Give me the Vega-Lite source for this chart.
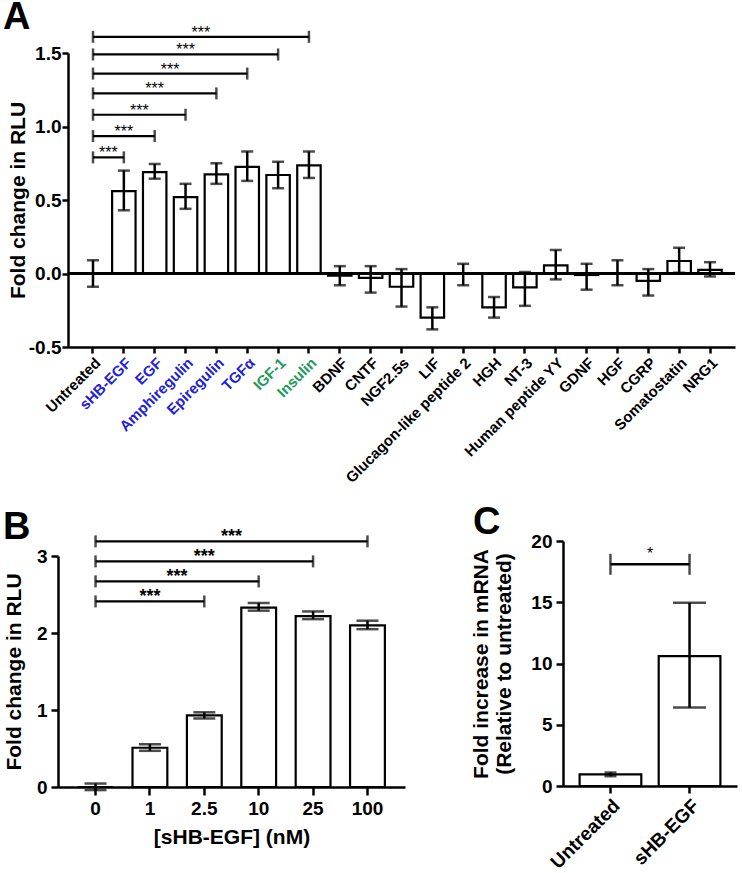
{
  "$schema": "https://vega.github.io/schema/vega-lite/v6.json",
  "autosize": {"type": "none"},
  "padding": {"left": 58, "top": 53, "right": 684, "bottom": 820},
  "background": "white",
  "bounds": "flush",
  "spacing": 488,
  "config": {
    "font": "Liberation Sans",
    "view": {"stroke": null},
    "axis": {
      "domainColor": "black", "domainWidth": 2.5, "tickColor": "black", "tickWidth": 2.5, "tickSize": 7,
      "labelFont": "Liberation Sans", "labelFontWeight": "bold", "labelColor": "black", "labelFontSize": 19,
      "titleFont": "Liberation Sans", "titleFontWeight": "bold", "titleColor": "black", "titleFontSize": 21,
      "grid": false, "labelPadding": 2
    },
    "title": {"font": "Liberation Sans", "fontSize": 38, "fontWeight": "bold", "anchor": "start", "frame": "group", "color": "black", "baseline": "alphabetic"}
  },
  "datasets": {
    "a": [
      {"name": "Untreated", "mean": 0.0, "hi": 0.09, "lo": -0.09},
      {"name": "sHB-EGF", "mean": 0.56, "hi": 0.70, "lo": 0.43},
      {"name": "EGF", "mean": 0.69, "hi": 0.745, "lo": 0.645},
      {"name": "Amphiregulin", "mean": 0.52, "hi": 0.61, "lo": 0.44},
      {"name": "Epiregulin", "mean": 0.675, "hi": 0.75, "lo": 0.61},
      {"name": "TGFα", "mean": 0.725, "hi": 0.83, "lo": 0.63},
      {"name": "IGF-1", "mean": 0.67, "hi": 0.76, "lo": 0.58},
      {"name": "Insulin", "mean": 0.735, "hi": 0.83, "lo": 0.65},
      {"name": "BDNF", "mean": -0.015, "hi": 0.05, "lo": -0.08},
      {"name": "CNTF", "mean": -0.03, "hi": 0.05, "lo": -0.13},
      {"name": "NGF2.5s", "mean": -0.09, "hi": 0.03, "lo": -0.225},
      {"name": "LIF", "mean": -0.30, "hi": -0.23, "lo": -0.38},
      {"name": "Glucagon-like peptide 2", "mean": 0.0, "hi": 0.066, "lo": -0.08},
      {"name": "HGH", "mean": -0.23, "hi": -0.16, "lo": -0.30},
      {"name": "NT-3", "mean": -0.095, "hi": 0.01, "lo": -0.22},
      {"name": "Human peptide YY", "mean": 0.055, "hi": 0.16, "lo": -0.04},
      {"name": "GDNF", "mean": -0.01, "hi": 0.066, "lo": -0.11},
      {"name": "HGF", "mean": 0.0, "hi": 0.09, "lo": -0.08},
      {"name": "CGRP", "mean": -0.05, "hi": 0.03, "lo": -0.15},
      {"name": "Somatostatin", "mean": 0.085, "hi": 0.175, "lo": 0.005},
      {"name": "NRG1", "mean": 0.025, "hi": 0.077, "lo": -0.02}
    ],
    "abr": [
      {"from": 0, "to": 7, "mid": 3.5, "y": 1.61, "sig": "***"},
      {"from": 0, "to": 6, "mid": 3.0, "y": 1.49, "sig": "***"},
      {"from": 0, "to": 5, "mid": 2.5, "y": 1.36, "sig": "***"},
      {"from": 0, "to": 4, "mid": 2.0, "y": 1.225, "sig": "***"},
      {"from": 0, "to": 3, "mid": 1.5, "y": 1.08, "sig": "***"},
      {"from": 0, "to": 2, "mid": 1.0, "y": 0.935, "sig": "***"},
      {"from": 0, "to": 1, "mid": 0.5, "y": 0.79, "sig": "***"}
    ],
    "b": [
      {"dose": "0", "mean": 0.0, "hi": 0.045, "lo": -0.04},
      {"dose": "1", "mean": 0.51, "hi": 0.555, "lo": 0.47},
      {"dose": "2.5", "mean": 0.93, "hi": 0.97, "lo": 0.89},
      {"dose": "10", "mean": 2.33, "hi": 2.39, "lo": 2.29},
      {"dose": "25", "mean": 2.22, "hi": 2.28, "lo": 2.18},
      {"dose": "100", "mean": 2.10, "hi": 2.16, "lo": 2.05}
    ],
    "bbr": [
      {"from": 0, "to": 5, "mid": 2.5, "y": 3.19, "sig": "***"},
      {"from": 0, "to": 4, "mid": 2.0, "y": 2.93, "sig": "***"},
      {"from": 0, "to": 3, "mid": 1.5, "y": 2.67, "sig": "***"},
      {"from": 0, "to": 2, "mid": 1.0, "y": 2.41, "sig": "***"}
    ],
    "c": [
      {"group": "Untreated", "mean": 0.95, "hi": 1.1, "lo": 0.8},
      {"group": "sHB-EGF", "mean": 10.6, "hi": 14.95, "lo": 6.4}
    ],
    "cbr": [
      {"from": 0, "to": 1, "mid": 0.5, "y": 18.1, "sig": "*"}
    ]
  },
  "vconcat": [
    {
      "bounds": "flush",
      "spacing": 9,
      "hconcat": [
        {"width": 1, "height": 1, "data": {"values": []}, "mark": "point", "encoding": {}},
        {
          "width": 667, "height": 294,
          "title": {"text": "A", "dx": -65, "offset": -12},
          "layer": [
            {
              "data": {"name": "a"},
              "layer": [
                {
                  "mark": {"type": "bar", "fill": "white", "stroke": "black", "strokeWidth": 2.2},
                  "encoding": {
                    "x": {"field": "name", "type": "nominal", "sort": null,
                      "scale": {"paddingInner": 0.24, "paddingOuter": 0.43},
                      "axis": {"title": null, "labelAngle": -45, "labelFontSize": 15, "tickSize": 6, "labelLimit": 300, "labelPadding": 2,
                        "labelColor": {"condition": [
                          {"test": "indexof(['sHB-EGF','EGF','Amphiregulin','Epiregulin','TGFα'], datum.value) >= 0", "value": "#2121d6"},
                          {"test": "indexof(['IGF-1','Insulin'], datum.value) >= 0", "value": "#22995a"}
                        ], "value": "black"}}},
                    "y": {"field": "mean", "type": "quantitative",
                      "scale": {"domain": [-0.5, 1.5], "nice": false, "zero": false},
                      "axis": {"title": "Fold change in RLU", "values": [-0.5, 0, 0.5, 1, 1.5], "tickSize": 6, "labelPadding": 1, "titlePadding": 0,
                        "labelExpr": "replace(format(datum.value, '.1f'), '\u2212', '-')"}},
                    "y2": {"datum": 0}
                  }
                },
                {
                  "mark": {"type": "rule", "color": "black", "strokeWidth": 2.5},
                  "encoding": {
                    "x": {"field": "name", "type": "nominal", "sort": null},
                    "y": {"field": "lo", "type": "quantitative"},
                    "y2": {"field": "hi"}
                  }
                },
                {
                  "mark": {"type": "tick", "color": "black", "thickness": 2.5, "size": 12, "orient": "horizontal"},
                  "encoding": {
                    "x": {"field": "name", "type": "nominal", "sort": null},
                    "y": {"field": "lo", "type": "quantitative"}
                  }
                },
                {
                  "mark": {"type": "tick", "color": "black", "thickness": 2.5, "size": 12, "orient": "horizontal"},
                  "encoding": {
                    "x": {"field": "name", "type": "nominal", "sort": null},
                    "y": {"field": "hi", "type": "quantitative"}
                  }
                },
                {
                  "mark": {"type": "rule", "color": "black", "strokeWidth": 1.8},
                  "encoding": {"y": {"datum": 0, "type": "quantitative"}}
                }
              ]
            },
            {
              "data": {"name": "abr"},
              "layer": [
                {
                  "mark": {"type": "rule", "color": "black", "strokeWidth": 2.2},
                  "encoding": {
                    "x": {"field": "from", "type": "quantitative", "scale": {"domain": [-0.81, 20.81], "nice": false, "zero": false}, "axis": null},
                    "x2": {"field": "to"},
                    "y": {"field": "y", "type": "quantitative", "scale": {"domain": [-0.5, 1.5]}}
                  }
                },
                {
                  "mark": {"type": "tick", "color": "black", "thickness": 2.5, "size": 12, "orient": "vertical"},
                  "encoding": {
                    "x": {"field": "from", "type": "quantitative"},
                    "y": {"field": "y", "type": "quantitative"}
                  }
                },
                {
                  "mark": {"type": "tick", "color": "black", "thickness": 2.5, "size": 12, "orient": "vertical"},
                  "encoding": {
                    "x": {"field": "to", "type": "quantitative"},
                    "y": {"field": "y", "type": "quantitative"}
                  }
                },
                {
                  "mark": {"type": "text", "color": "black", "fontSize": 16, "baseline": "bottom", "dy": 4, "font": "Liberation Sans"},
                  "encoding": {
                    "x": {"field": "mid", "type": "quantitative"},
                    "y": {"field": "y", "type": "quantitative"},
                    "text": {"field": "sig"}
                  }
                }
              ]
            }
          ],
          "resolve": {"scale": {"x": "independent"}, "axis": {"x": "independent"}}
        }
      ]
    },
    {
      "bounds": "flush",
      "spacing": 505,
      "hconcat": [
        {
          "bounds": "flush",
          "spacing": 14,
          "vconcat": [
            {"width": 347, "height": 1, "data": {"values": []}, "mark": "point", "encoding": {}},
            {
              "width": 347, "height": 231,
              "title": {"text": "B", "dx": -55, "offset": -19},
              "layer": [
                {
                  "data": {"name": "b"},
                  "layer": [
                    {
                      "mark": {"type": "bar", "fill": "white", "stroke": "black", "strokeWidth": 2.2},
                      "encoding": {
                        "x": {"field": "dose", "type": "nominal", "sort": null,
                          "scale": {"paddingInner": 0.36, "paddingOuter": 0.37},
                          "axis": {"title": "[sHB-EGF] (nM)", "labelAngle": 0, "tickSize": 8, "labelPadding": 4, "titlePadding": 8}},
                        "y": {"field": "mean", "type": "quantitative",
                          "scale": {"domain": [0, 3], "nice": false},
                          "axis": {"title": "Fold change in RLU", "values": [0, 1, 2, 3], "format": "d", "tickSize": 7, "labelPadding": 4, "titlePadding": 12}},
                        "y2": {"datum": 0}
                      }
                    },
                    {
                      "mark": {"type": "rule", "color": "black", "strokeWidth": 2.5},
                      "encoding": {
                        "x": {"field": "dose", "type": "nominal", "sort": null},
                        "y": {"field": "lo", "type": "quantitative"},
                        "y2": {"field": "hi"}
                      }
                    },
                    {
                      "mark": {"type": "tick", "color": "black", "thickness": 2.5, "size": 22, "orient": "horizontal"},
                      "encoding": {
                        "x": {"field": "dose", "type": "nominal", "sort": null},
                        "y": {"field": "lo", "type": "quantitative"}
                      }
                    },
                    {
                      "mark": {"type": "tick", "color": "black", "thickness": 2.5, "size": 22, "orient": "horizontal"},
                      "encoding": {
                        "x": {"field": "dose", "type": "nominal", "sort": null},
                        "y": {"field": "hi", "type": "quantitative"}
                      }
                    }
                  ]
                },
                {
                  "data": {"name": "bbr"},
                  "layer": [
                    {
                      "mark": {"type": "rule", "color": "black", "strokeWidth": 2.2},
                      "encoding": {
                        "x": {"field": "from", "type": "quantitative", "scale": {"domain": [-0.69, 5.69], "nice": false, "zero": false}, "axis": null},
                        "x2": {"field": "to"},
                        "y": {"field": "y", "type": "quantitative", "scale": {"domain": [0, 3]}}
                      }
                    },
                    {
                      "mark": {"type": "tick", "color": "black", "thickness": 2.5, "size": 12, "orient": "vertical"},
                      "encoding": {
                        "x": {"field": "from", "type": "quantitative"},
                        "y": {"field": "y", "type": "quantitative"}
                      }
                    },
                    {
                      "mark": {"type": "tick", "color": "black", "thickness": 2.5, "size": 12, "orient": "vertical"},
                      "encoding": {
                        "x": {"field": "to", "type": "quantitative"},
                        "y": {"field": "y", "type": "quantitative"}
                      }
                    },
                    {
                      "mark": {"type": "text", "color": "black", "fontSize": 18, "fontWeight": "bold", "baseline": "bottom", "dy": 5, "font": "Liberation Sans"},
                      "encoding": {
                        "x": {"field": "mid", "type": "quantitative"},
                        "y": {"field": "y", "type": "quantitative"},
                        "text": {"field": "sig"}
                      }
                    }
                  ]
                }
              ],
              "resolve": {"scale": {"x": "independent"}, "axis": {"x": "independent"}}
            }
          ]
        },
        {
          "width": 174, "height": 245,
          "title": {"text": "C", "dx": -90, "offset": -10},
          "layer": [
            {
              "data": {"name": "c"},
              "layer": [
                {
                  "mark": {"type": "bar", "fill": "white", "stroke": "black", "strokeWidth": 2.2},
                  "encoding": {
                    "x": {"field": "group", "type": "nominal", "sort": null,
                      "scale": {"paddingInner": 0.22, "paddingOuter": 0.21},
                      "axis": {"title": null, "labelAngle": -45, "labelFontSize": 19, "tickSize": 7, "labelPadding": 3}},
                    "y": {"field": "mean", "type": "quantitative",
                      "scale": {"domain": [0, 20], "nice": false},
                      "axis": {"title": ["Fold increase in mRNA", "(Relative to untreated)"], "titleLineHeight": 23, "values": [0, 5, 10, 15, 20], "tickSize": 7, "labelPadding": 4, "titlePadding": 16}},
                    "y2": {"datum": 0}
                  }
                },
                {
                  "mark": {"type": "rule", "color": "black", "strokeWidth": 2.5},
                  "encoding": {
                    "x": {"field": "group", "type": "nominal", "sort": null},
                    "y": {"field": "lo", "type": "quantitative"},
                    "y2": {"field": "hi"}
                  }
                },
                {
                  "transform": [{"filter": "datum.group === 'Untreated'"}],
                  "mark": {"type": "tick", "color": "black", "thickness": 2.5, "size": 12, "orient": "horizontal"},
                  "encoding": {
                    "x": {"field": "group", "type": "nominal", "sort": null},
                    "y": {"field": "lo", "type": "quantitative"}
                  }
                },
                {
                  "transform": [{"filter": "datum.group === 'Untreated'"}],
                  "mark": {"type": "tick", "color": "black", "thickness": 2.5, "size": 12, "orient": "horizontal"},
                  "encoding": {
                    "x": {"field": "group", "type": "nominal", "sort": null},
                    "y": {"field": "hi", "type": "quantitative"}
                  }
                },
                {
                  "transform": [{"filter": "datum.group !== 'Untreated'"}],
                  "mark": {"type": "tick", "color": "black", "thickness": 2.5, "size": 33, "orient": "horizontal"},
                  "encoding": {
                    "x": {"field": "group", "type": "nominal", "sort": null},
                    "y": {"field": "lo", "type": "quantitative"}
                  }
                },
                {
                  "transform": [{"filter": "datum.group !== 'Untreated'"}],
                  "mark": {"type": "tick", "color": "black", "thickness": 2.5, "size": 33, "orient": "horizontal"},
                  "encoding": {
                    "x": {"field": "group", "type": "nominal", "sort": null},
                    "y": {"field": "hi", "type": "quantitative"}
                  }
                }
              ]
            },
            {
              "data": {"name": "cbr"},
              "layer": [
                {
                  "mark": {"type": "rule", "color": "black", "strokeWidth": 2.5},
                  "encoding": {
                    "x": {"field": "from", "type": "quantitative", "scale": {"domain": [-0.6, 1.6], "nice": false, "zero": false}, "axis": null},
                    "x2": {"field": "to"},
                    "y": {"field": "y", "type": "quantitative", "scale": {"domain": [0, 20]}}
                  }
                },
                {
                  "mark": {"type": "tick", "color": "black", "thickness": 2.5, "size": 21, "orient": "vertical"},
                  "encoding": {
                    "x": {"field": "from", "type": "quantitative"},
                    "y": {"field": "y", "type": "quantitative"}
                  }
                },
                {
                  "mark": {"type": "tick", "color": "black", "thickness": 2.5, "size": 21, "orient": "vertical"},
                  "encoding": {
                    "x": {"field": "to", "type": "quantitative"},
                    "y": {"field": "y", "type": "quantitative"}
                  }
                },
                {
                  "mark": {"type": "text", "color": "black", "fontSize": 16, "baseline": "bottom", "dy": -2, "font": "Liberation Sans"},
                  "encoding": {
                    "x": {"field": "mid", "type": "quantitative"},
                    "y": {"field": "y", "type": "quantitative"},
                    "text": {"field": "sig"}
                  }
                }
              ]
            }
          ],
          "resolve": {"scale": {"x": "independent"}, "axis": {"x": "independent"}}
        }
      ]
    }
  ]
}
